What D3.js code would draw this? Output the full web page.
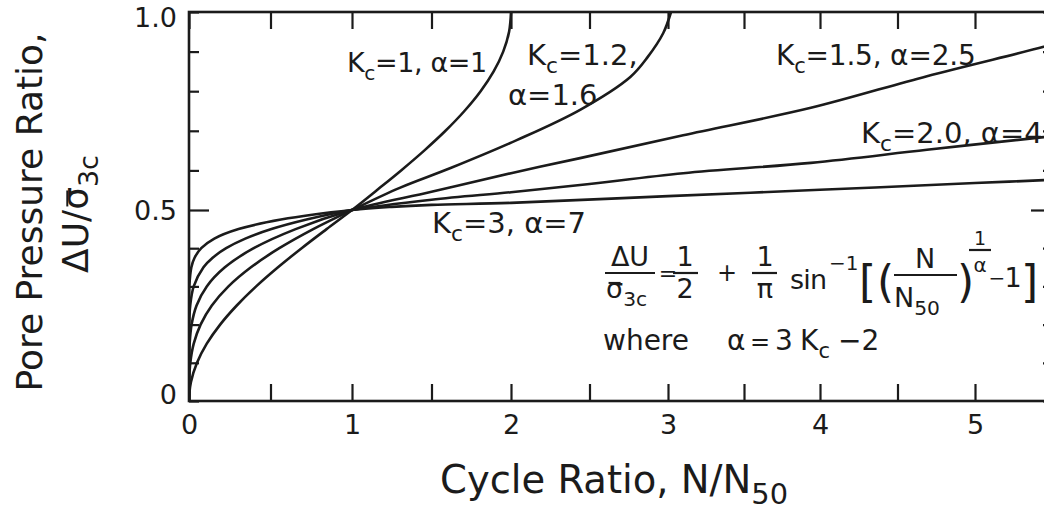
<!DOCTYPE html>
<html>
<head>
<meta charset="utf-8">
<script src="https://cdn.jsdelivr.net/npm/d3@7"></script>
<style>
  body { margin: 0; background: #fff; }
  svg { display: block; }
  text { font-family: "DejaVu Sans", sans-serif; fill: #1b1b1b; }
</style>
</head>
<body>
<script>
// points [N/N50, dU/sigma3c], one array per curve
var curveK1 = [[0,0],[0.002,0.02],[0.012,0.05],[0.049,0.1],[0.109,0.15],[0.191,0.2],[0.293,0.25],[0.412,0.3],
  [0.546,0.35],[0.691,0.4],[0.844,0.45],[1,0.5],[1.156,0.55],[1.309,0.6],[1.454,0.65],[1.588,0.7],
  [1.707,0.75],[1.809,0.8],[1.891,0.85],[1.951,0.9],[1.988,0.95],[2.0,1.0]];
var curveK12 = [[0,0],[0.00005,0.02],[0.0009,0.05],[0.008,0.1],[0.029,0.15],[0.071,0.2],[0.140,0.25],[0.242,0.3],
  [0.380,0.35],[0.554,0.4],[0.762,0.45],[1,0.5],[1.30,0.556],[1.62,0.606],[2.04,0.677],[2.44,0.753],
  [2.76,0.836],[2.87,0.886],[2.97,0.947],[3.02,1.0]];
var curveK15 = [[0,0],[0.00002,0.05],[0.0005,0.1],[0.0039,0.15],[0.0159,0.2],[0.0464,0.25],[0.109,0.3],
  [0.220,0.35],[0.397,0.4],[0.654,0.45],[1,0.5],[1.5,0.546],[2,0.593],[2.44,0.631],[3.1,0.689],
  [3.94,0.758],[4.69,0.838],[5.44,0.912],[5.6,0.93]];
var curveK2 = [[0,0],[0.000006,0.1],[0.00014,0.15],[0.0013,0.2],[0.0074,0.25],[0.0289,0.3],[0.0889,0.35],
  [0.1452,0.375],[0.228,0.4],[0.3453,0.425],[0.506,0.45],[0.7212,0.475],[1,0.5],[1.5,0.526],[2,0.545],
  [2.44,0.563],[3.1,0.593],[3.94,0.619],[4.69,0.652],[5.44,0.684],[5.6,0.69]];
var curveK3 = [[0,0],[0.00001,0.2],[0.0002,0.25],[0.002,0.3],[0.0145,0.35],[0.0342,0.375],[0.0752,0.4],
  [0.1555,0.425],[0.304,0.45],[0.5644,0.475],[1,0.5],[1.25,0.508],[1.5,0.513],[2,0.518],[3,0.535],
  [4,0.551],[5,0.568],[5.6,0.578]];

var xTicks = [0,0.5,1,1.5,2,2.5,3,3.5,4,4.5,5,5.5];
var xLabels = [0,1,2,3,4,5];
var yTicks = [0,0.1,0.2,0.3,0.4,0.5,0.6,0.7,0.8,0.9,1.0];
var yLabels = [0,0.5,1];

var width = 1044, height = 512;
var ink = "#1b1b1b";

// the scan is a little uneven, so the scales are piecewise
var x = d3.scaleLinear().domain([0,1,2,3,4,5,6]).range([189,352,511,668,820,975,1131]);
var y = d3.scaleLinear().domain([0,0.5,1]).range([401,210,12]);
var plotL = x(0), plotR = x(5.5), plotT = y(1), plotB = y(0);

var svg = d3.select("body").append("svg")
    .attr("width", width)
    .attr("height", height);
svg.append("rect").attr("width", width).attr("height", height).attr("fill", "#fff");

//__axes (ticks point inward on all four sides)__//
function styleAxis(g) {
    g.select(".domain").remove();
    g.selectAll(".tick line").attr("stroke", ink).attr("stroke-width", 2.2);
    g.selectAll(".tick text").attr("fill", ink).attr("font-family", "DejaVu Sans").attr("font-size", 27);
}

svg.append("g")
    .attr("transform", "translate(0," + plotB + ")")
    .call(d3.axisBottom(x).tickValues(xTicks).tickSize(-17).tickPadding(14)
        .tickFormat(d => xLabels.includes(d) ? d : ""))
    .call(styleAxis);

svg.append("g")
    .attr("transform", "translate(0," + plotT + ")")
    .call(d3.axisTop(x).tickValues(xTicks).tickSize(-17).tickFormat(""))
    .call(styleAxis);

var yl = svg.append("g")
    .attr("transform", "translate(" + plotL + ",0)")
    .call(d3.axisLeft(y).tickValues(yTicks).tickSize(-10).tickPadding(12)
        .tickFormat(d => yLabels.includes(d) ? (d === 0 ? "0" : d3.format(".1f")(d)) : ""))
    .call(styleAxis);
yl.selectAll(".tick line").attr("x2", d => d === 0.5 ? 20 : 10);
yl.selectAll(".tick text").attr("dy", d => d === 1 ? "0.55em" : d === 0 ? "0.1em" : "0.35em");

var yr = svg.append("g")
    .attr("transform", "translate(" + plotR + ",0)")
    .call(d3.axisRight(y).tickValues(yTicks).tickSize(-10).tickFormat(""))
    .call(styleAxis);
yr.selectAll(".tick line").attr("x2", d => d === 0.5 ? -22 : -10);

svg.append("rect")
    .attr("x", plotL).attr("y", plotT)
    .attr("width", plotR - plotL).attr("height", plotB - plotT)
    .attr("fill", "none").attr("stroke", ink).attr("stroke-width", 2.6);

//__curves__//
svg.append("clipPath").attr("id", "plot")
  .append("rect").attr("x", plotL).attr("y", plotT - 2).attr("width", plotR - plotL).attr("height", plotB - plotT + 2);

var line = d3.line()
    .x(d => x(d[0]))
    .y(d => y(d[1]))
    .curve(d3.curveCatmullRom.alpha(0.5));

svg.append("g").attr("clip-path", "url(#plot)")
  .selectAll("path")
  .data([curveK1, curveK12, curveK15, curveK2, curveK3])
  .enter().append("path")
    .attr("d", line)
    .attr("fill", "none")
    .attr("stroke", ink)
    .attr("stroke-width", 2.6);

//__text helper: parts are [string, "", "sub" or "sup"]__//
function rich(g, px, py, parts, size) {
    var t = g.append("text").attr("x", px).attr("y", py).attr("font-size", size);
    var shift = 0;
    parts.forEach(function(p) {
        var target = p[1] === "sub" ? size * 0.28 : p[1] === "sup" ? -size * 0.4 : 0;
        t.append("tspan")
            .attr("dy", target - shift)
            .attr("font-size", p[1] ? size * 0.75 : size)
            .text(p[0]);
        shift = target;
    });
    return t;
}

function overbar(g, t, idx, gap) {
    var e = t.node().getExtentOfChar(idx);
    var yy = e.y + e.height * gap;
    g.append("line")
        .attr("x1", e.x + e.width * 0.15).attr("x2", e.x + e.width * 0.85)
        .attr("y1", yy).attr("y2", yy)
        .attr("stroke", ink).attr("stroke-width", 2);
}

//__axis titles__//
svg.append("text")
    .attr("transform", "translate(42,212) rotate(-90)")
    .attr("text-anchor", "middle")
    .attr("font-size", 36)
    .text("Pore Pressure Ratio,");

var yt = svg.append("g").attr("transform", "translate(88,214) rotate(-90)");
var ytText = rich(yt, 0, 0, [["ΔU/σ", ""], ["3c", "sub"]], 36).attr("text-anchor", "middle");
overbar(yt, ytText, 3, 0.3);

rich(svg, 440, 493, [["Cycle  Ratio, N/N", ""], ["50", "sub"]], 38.5);

//__curve labels__//
rich(svg, 347, 72, [["K", ""], ["c", "sub"], ["=1, α=1", ""]], 27).attr("letter-spacing", -0.4);
rich(svg, 527, 65, [["K", ""], ["c", "sub"], ["=1.2,", ""]], 29);
rich(svg, 508, 105, [["α=1.6", ""]], 29);
rich(svg, 776, 65, [["K", ""], ["c", "sub"], ["=1.5, α=2.5", ""]], 28).attr("letter-spacing", -0.2);
rich(svg, 861, 143, [["K", ""], ["c", "sub"], ["=2.0, α=4", ""]], 29);
rich(svg, 432, 233, [["K", ""], ["c", "sub"], ["=3, α=7", ""]], 29);

//__equation__//
var eq = svg.append("g");
function ctext(px, py, s, size) {
    return eq.append("text").attr("x", px).attr("y", py).attr("text-anchor", "middle")
        .attr("font-size", size).text(s);
}
function bar(x1, x2, yy) {
    eq.append("line").attr("x1", x1).attr("x2", x2).attr("y1", yy).attr("y2", yy)
        .attr("stroke", ink).attr("stroke-width", 2.2);
}
ctext(630, 266, "ΔU", 27);
bar(605, 655, 273);
var den = rich(eq, 606, 298, [["σ", ""], ["3c", "sub"]], 27);
overbar(eq, den, 0, 0.32);
ctext(668, 281, "=", 22);
ctext(685, 266, "1", 27);
bar(673, 698, 273);
ctext(685, 298, "2", 27);
ctext(727, 281, "+", 24);
ctext(765, 266, "1", 27);
bar(752, 777, 273);
ctext(765, 298, "π", 27);
eq.append("text").attr("x", 790).attr("y", 289).attr("font-size", 27).attr("letter-spacing", -0.8).text("sin");
eq.append("text").attr("x", 829).attr("y", 270).attr("font-size", 20).text("−1");
eq.append("text").attr("x", 859).attr("y", 297).attr("font-size", 44).text("[");
eq.append("text").attr("x", 877).attr("y", 297).attr("font-size", 44).text("(");
ctext(925, 268, "N", 27);
bar(894, 957, 275);
rich(eq, 894, 307, [["N", ""], ["50", "sub"]], 27);
eq.append("text").attr("x", 957).attr("y", 297).attr("font-size", 44).text(")");
ctext(980, 245, "1", 19);
bar(969, 991, 250);
ctext(980, 272, "α", 20);
ctext(997, 285, "−", 20);
ctext(1013, 287, "1", 27);
eq.append("text").attr("x", 1021).attr("y", 297).attr("font-size", 44).text("]");

eq.append("text").attr("x", 603).attr("y", 350).attr("font-size", 28).text("where");
eq.append("text").attr("x", 727).attr("y", 350).attr("font-size", 28).text("α");
ctext(760, 350, "=", 24);
eq.append("text").attr("x", 775).attr("y", 350).attr("font-size", 28).text("3");
rich(eq, 800, 350, [["K", ""], ["c", "sub"]], 28);
eq.append("text").attr("x", 838).attr("y", 350).attr("font-size", 28).text("−2");
</script>
</body>
</html>
